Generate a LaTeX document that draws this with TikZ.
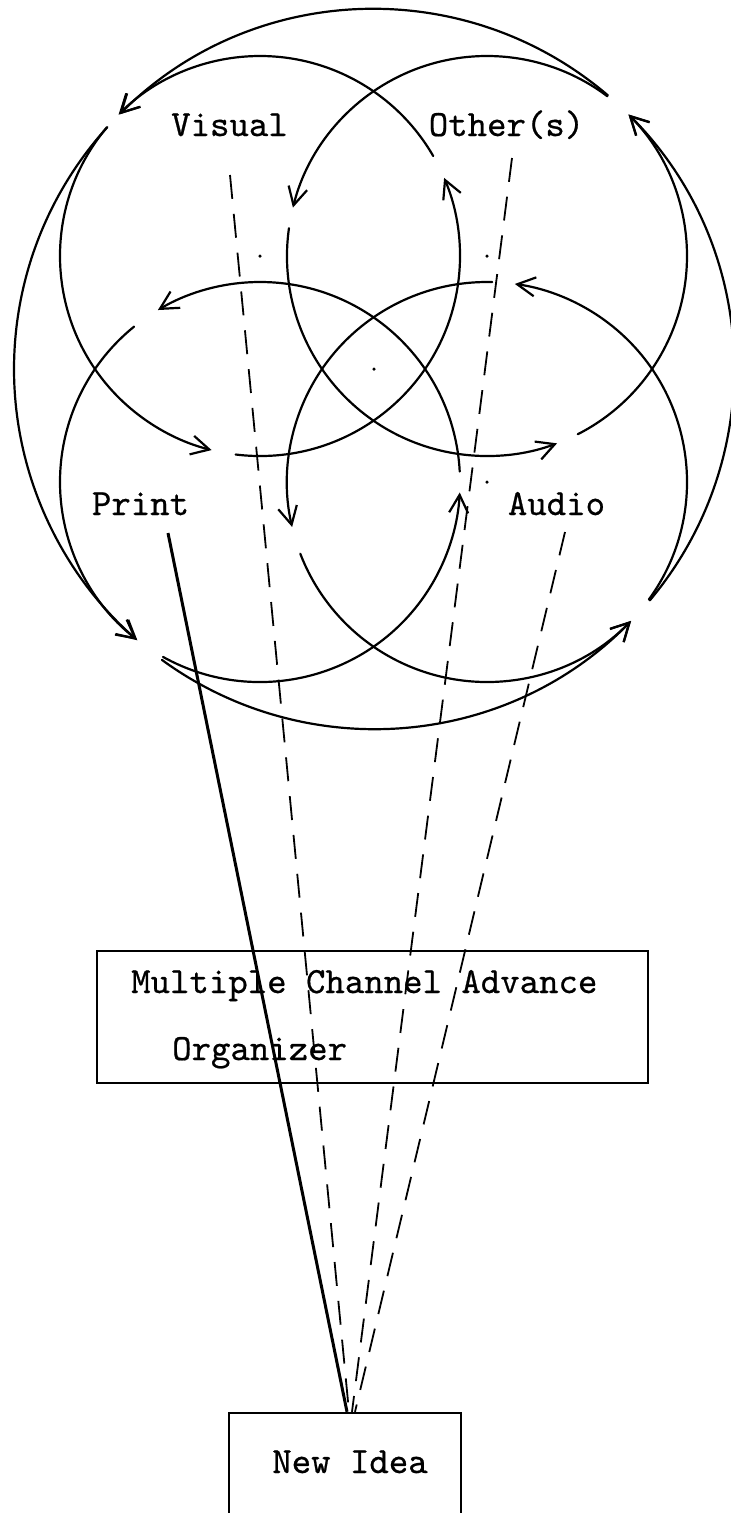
\documentclass[tikz,border=0pt]{standalone}
\usepackage{fontspec}
\newfontfamily\twfont[Extension=.otf, FakeBold=0.6]{lmmono10-regular}
\usetikzlibrary{arrows.meta}
\newcommand\myarc[4]{\draw[arr] (#1) ++(#2:#4) arc[start angle=#2, end angle=#3, radius=#4];}
\begin{document}
\begin{tikzpicture}[x=1pt,y=1pt,
  circ/.style={line width=2.2pt, line cap=round},
  arr/.style={circ, -{Straight Barb[length=18pt,width=19pt]}},
  dashln/.style={line width=1.8pt, dash pattern=on 24pt off 15pt},
  solidln/.style={line width=3pt},
  lbl/.style={font=\fontsize{37}{44}\selectfont\twfont, inner sep=0pt, anchor=base},
  box/.style={draw, line width=2.4pt, inner sep=0pt},
  cdot/.style={fill, circle, inner sep=0pt, minimum size=3.5pt}
]
\useasboundingbox (0,0) rectangle (731,-1513);
\coordinate (C) at (374,-369);
\coordinate (V) at (260,-256);
\coordinate (O) at (487,-256);
\coordinate (P) at (260,-482);
\coordinate (A) at (487,-482);
% centre marks
\node[cdot] (dC) at (C) {};
\node[cdot] (dV) at (V) {};
\node[cdot] (dO) at (O) {};
\node[cdot] (dA) at (A) {};
% Visual circle
\myarc{V}{140}{256}{200pt}
\myarc{V}{263}{383}{200pt}
\myarc{V}{30}{135}{200pt}
% Other(s) circle
\myarc{O}{53}{166}{200pt}
\myarc{O}{172}{290.5}{200pt}
\myarc{O}{297}{405}{200pt}
% Print circle
\myarc{P}{241}{357}{200pt}
\myarc{P}{3}{120.7}{200pt}
\myarc{P}{129}{232}{200pt}
% Audio circle
\myarc{A}{324}{442}{200pt}
\myarc{A}{88.5}{193}{200pt}
\myarc{A}{201}{316}{200pt}
% outer circle
\myarc{C}{49.5}{135}{360pt}
\myarc{C}{137.8}{228.9}{360pt}
\myarc{C}{233.9}{315.6}{360pt}
\myarc{C}{320}{405}{360pt}
% labels
\node[lbl] (vis) at (229.5,-136) {Visual};
\node[lbl] (oth) at (506.5,-136) {Other(s)};
\node[lbl] (prt) at (140.5,-515) {Print};
\node[lbl] (aud) at (556.5,-515) {Audio};
% boxes
\node[box, minimum width=551pt, minimum height=132pt] (mca) at (372.5,-1017) {};
\node[lbl, anchor=base west] (mcaA) at (131,-993) {Multiple Channel Advance};
\node[lbl, anchor=base west] (mcaB) at (172,-1060) {Organizer};
\node[box, minimum width=232pt, minimum height=102pt] (ni) at (345,-1464) {};
\node[lbl] (niT) at (350,-1473) {New Idea};
% connectors
\draw[solidln] ([shift={(27.5,-18)}]prt.base) -- ([xshift=2pt]ni.north);
\draw[dashln] ([shift={(0.5,-39)}]vis.base) -- ([xshift=4pt]ni.north);
\draw[dashln] ([shift={(5.5,-22)}]oth.base) -- ([xshift=7pt]ni.north);
\draw[dashln] ([shift={(8.5,-17)}]aud.base) -- ([xshift=10pt]ni.north);
\end{tikzpicture}
\end{document}
